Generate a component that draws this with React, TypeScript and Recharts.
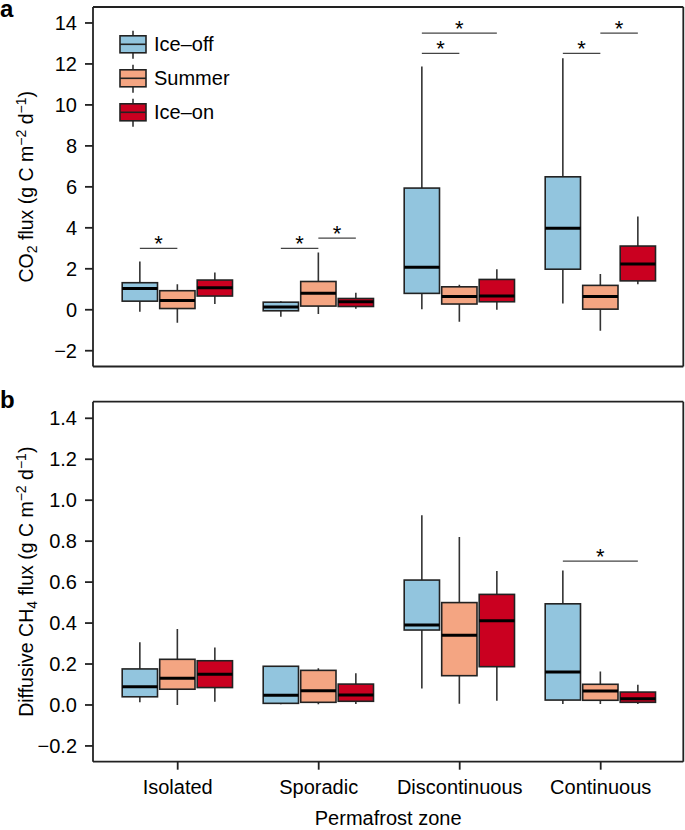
import React from "react";
import { ComposedChart, Bar, XAxis, YAxis, Legend } from "recharts";

const FONT = "'Liberation Sans', Arial, Helvetica, sans-serif";
const BAR_SIZE = 35.3;
const BAR_GAP = 2.2;

const zones = ["Isolated", "Sporadic", "Discontinuous", "Continuous"];
const seasons = ["Ice–off", "Summer", "Ice–on"];
const seasonColors = ["#92c5de", "#f4a582", "#ca0020"];

// each box: [lower whisker, Q1, median, Q3, upper whisker]
const co2IceOff = [
  [-0.1, 0.42, 1.04, 1.32, 2.36],
  [-0.34, -0.05, 0.13, 0.37, 0.42],
  [0.03, 0.8, 2.08, 5.94, 11.87],
  [0.31, 1.98, 3.98, 6.49, 12.28],
];
const co2Summer = [
  [-0.63, 0.06, 0.45, 0.93, 1.25],
  [-0.21, 0.18, 0.81, 1.38, 2.8],
  [-0.59, 0.28, 0.65, 1.12, 1.22],
  [-1.02, 0.03, 0.65, 1.19, 1.74],
];
const co2IceOn = [
  [0.28, 0.67, 1.07, 1.45, 1.82],
  [0.05, 0.16, 0.39, 0.55, 0.83],
  [0.0, 0.39, 0.67, 1.48, 1.98],
  [1.25, 1.41, 2.23, 3.11, 4.55],
];

const ch4IceOff = [
  [0.013, 0.04, 0.089, 0.176, 0.306],
  [0.003, 0.008, 0.047, 0.189, 0.189],
  [0.081, 0.366, 0.39, 0.61, 0.927],
  [0.005, 0.024, 0.161, 0.494, 0.657],
];
const ch4Summer = [
  [0.0, 0.077, 0.13, 0.223, 0.371],
  [0.003, 0.013, 0.07, 0.169, 0.179],
  [0.006, 0.143, 0.341, 0.5, 0.82],
  [0.005, 0.023, 0.068, 0.101, 0.163],
];
const ch4IceOn = [
  [0.016, 0.085, 0.15, 0.216, 0.281],
  [0.005, 0.018, 0.049, 0.102, 0.155],
  [0.021, 0.187, 0.411, 0.54, 0.654],
  [0.005, 0.013, 0.031, 0.063, 0.099],
];

// significance brackets: [zone, from season, to season, height]
const co2Signif = [
  [0, 0, 1, 3.0],
  [1, 0, 1, 3.0],
  [1, 1, 2, 3.5],
  [2, 0, 1, 12.52],
  [2, 0, 2, 13.5],
  [3, 0, 1, 12.52],
  [3, 1, 2, 13.5],
];
const ch4Signif = [[3, 0, 2, 0.702]];

const co2Ticks = [-2, 0, 2, 4, 6, 8, 10, 12, 14];
const ch4Ticks = [-0.2, 0, 0.2, 0.4, 0.6, 0.8, 1.0, 1.2, 1.4];

const co2Rows = zones.map((zone, i) => ({ zone, stats: [co2IceOff[i], co2Summer[i], co2IceOn[i]] }));
const ch4Rows = zones.map((zone, i) => ({ zone, stats: [ch4IceOff[i], ch4Summer[i], ch4IceOn[i]] }));

const axisLine = { stroke: "#222", strokeWidth: 1.8 };
const tickStyle = { fill: "#000", fontSize: 20, fontFamily: FONT };

function boxShape(s: number, signif: number[][]) {
  return (props: any) => {
    const { x, y, width, height, payload, index } = props;
    const st: number[] = payload.stats[s];
    const top = Math.min(y, y + height);
    const bot = Math.max(y, y + height);
    const lo = st[0];
    const hi = st[4];
    const py = (v: number) => top + ((hi - v) / (hi - lo)) * (bot - top);
    const cx = x + width / 2;
    const step = width + BAR_GAP;
    return (
      <g>
        <line x1={cx} x2={cx} y1={py(st[0])} y2={py(st[1])} stroke="#333" strokeWidth={1.6} />
        <line x1={cx} x2={cx} y1={py(st[3])} y2={py(st[4])} stroke="#333" strokeWidth={1.6} />
        <rect
          x={x}
          y={py(st[3])}
          width={width}
          height={py(st[1]) - py(st[3])}
          fill={seasonColors[s]}
          stroke="#222"
          strokeWidth={1.6}
        />
        <line x1={x} x2={x + width} y1={py(st[2])} y2={py(st[2])} stroke="#000" strokeWidth={3} />
        {signif
          .filter((b) => b[0] === index && b[1] === s)
          .map((b, k) => {
            const yy = py(b[3]);
            const x2 = cx + (b[2] - b[1]) * step;
            return (
              <g key={k}>
                <line x1={cx} x2={x2} y1={yy} y2={yy} stroke="#444" strokeWidth={1.3} />
                <text x={(cx + x2) / 2} y={yy + 3} textAnchor="middle" fontSize={22} fontFamily={FONT} fill="#000">
                  *
                </text>
              </g>
            );
          })}
      </g>
    );
  };
}

function unitTail() {
  return [
    <tspan key="a" dy={-7} fontSize={14}>−2</tspan>,
    <tspan key="b" dy={7}>{" d"}</tspan>,
    <tspan key="c" dy={-7} fontSize={14}>−1</tspan>,
    <tspan key="d" dy={7}>)</tspan>,
  ];
}

const co2Label = (props: any) => {
  const vb = props.viewBox;
  const cy = vb.y + vb.height / 2;
  return (
    <g>
      <text x={0} y={17} textAnchor="start" fontSize={24} fontWeight="bold" fontFamily={FONT} fill="#000">a</text>
      <text transform={`translate(33, ${cy}) rotate(-90)`} textAnchor="middle" fontSize={19.5} fontFamily={FONT} fill="#000">
        CO<tspan dy={4} fontSize={14}>2</tspan>
        <tspan dy={-4}>{" flux (g C m"}</tspan>
        {unitTail()}
      </text>
    </g>
  );
};

const ch4Label = (props: any) => {
  const vb = props.viewBox;
  const cy = vb.y + vb.height / 2;
  return (
    <g>
      <text x={0} y={28} textAnchor="start" fontSize={24} fontWeight="bold" fontFamily={FONT} fill="#000">b</text>
      <text transform={`translate(33, ${cy}) rotate(-90)`} textAnchor="middle" fontSize={19.5} fontFamily={FONT} fill="#000">
        Diffusive CH<tspan dy={4} fontSize={14}>4</tspan>
        <tspan dy={-4}>{" flux (g C m"}</tspan>
        {unitTail()}
      </text>
    </g>
  );
};

const zoneLabel = (props: any) => {
  const vb = props.viewBox;
  return (
    <text x={vb.x + vb.width / 2} y={vb.y + 63} textAnchor="middle" fontSize={20} fontFamily={FONT} fill="#000">
      Permafrost zone
    </text>
  );
};

const legendContent = () => (
  <svg width={260} height={130} style={{ display: "block" }}>
    {seasons.map((name, i) => {
      const cy = 44.3 + i * 34;
      return (
        <g key={name}>
          <line x1={133} x2={133} y1={cy - 13.5} y2={cy + 14.5} stroke="#333" strokeWidth={1.6} />
          <rect x={120} y={cy - 8.5} width={26} height={17} fill={seasonColors[i]} stroke="#222" strokeWidth={1.6} />
          <line x1={120} x2={146} y1={cy} y2={cy} stroke="#222" strokeWidth={1.6} />
          <text x={154} y={cy} dominantBaseline="central" fontSize={20} fontFamily={FONT} fill="#000">
            {name}
          </text>
        </g>
      );
    })}
  </svg>
);

const co2Fmt = (v: number) => String(v).replace("-", "−");
const ch4Fmt = (v: number) => v.toFixed(1).replace("-", "−");

export default function App() {
  return (
    <div style={{ position: "relative", width: 685, height: 830, background: "#fff", overflow: "hidden" }}>
      <style>{`html, body { margin: 0; padding: 0; overflow: hidden; }`}</style>
      <div style={{ position: "absolute", left: 0, top: 0 }}>
        <ComposedChart width={685} height={380} data={co2Rows} margin={{ top: 6, right: 0.7, bottom: 12.5, left: 0 }} barGap={BAR_GAP}>
          <XAxis dataKey="zone" height={1} tick={false} tickLine={false} axisLine={axisLine} padding={{ left: 14.2, right: 12.1 }} />
          <XAxis xAxisId="top" orientation="top" dataKey="zone" height={1} tick={false} tickLine={false} axisLine={axisLine} />
          <YAxis
            width={93}
            domain={[-2.77, 14.78]}
            allowDataOverflow
            ticks={co2Ticks}
            tickFormatter={co2Fmt}
            tick={tickStyle}
            tickSize={8}
            tickMargin={8}
            tickLine={axisLine}
            axisLine={axisLine}
            label={co2Label}
          />
          <YAxis yAxisId="right" orientation="right" width={1} domain={[0, 1]} tick={false} tickLine={false} axisLine={axisLine} />
          <Legend
            layout="horizontal"
            verticalAlign="middle"
            align="center"
            wrapperStyle={{ position: "absolute", left: 0, top: 0, width: 260, height: 130 }}
            content={legendContent}
          />
          {seasons.map((name, s) => (
            <Bar
              key={name}
              name={name}
              dataKey={(r: any) => [r.stats[s][0], r.stats[s][4]]}
              fill={seasonColors[s]}
              barSize={BAR_SIZE}
              isAnimationActive={false}
              shape={boxShape(s, co2Signif)}
            />
          ))}
        </ComposedChart>
      </div>
      <div style={{ position: "absolute", left: 0, top: 380 }}>
        <ComposedChart width={685} height={450} data={ch4Rows} margin={{ top: 20.7, right: 0.7, bottom: 0, left: 0 }} barGap={BAR_GAP}>
          <XAxis
            dataKey="zone"
            height={68.3}
            tick={tickStyle}
            tickSize={8}
            tickMargin={10}
            tickLine={axisLine}
            axisLine={axisLine}
            interval={0}
            padding={{ left: 14.2, right: 12.1 }}
            label={zoneLabel}
          />
          <XAxis xAxisId="top" orientation="top" dataKey="zone" height={1} tick={false} tickLine={false} axisLine={axisLine} />
          <YAxis
            width={93}
            domain={[-0.277, 1.481]}
            allowDataOverflow
            ticks={ch4Ticks}
            tickFormatter={ch4Fmt}
            tick={tickStyle}
            tickSize={8}
            tickMargin={8}
            tickLine={axisLine}
            axisLine={axisLine}
            label={ch4Label}
          />
          <YAxis yAxisId="right" orientation="right" width={1} domain={[0, 1]} tick={false} tickLine={false} axisLine={axisLine} />
          {seasons.map((name, s) => (
            <Bar
              key={name}
              name={name}
              dataKey={(r: any) => [r.stats[s][0], r.stats[s][4]]}
              fill={seasonColors[s]}
              barSize={BAR_SIZE}
              isAnimationActive={false}
              shape={boxShape(s, ch4Signif)}
            />
          ))}
        </ComposedChart>
      </div>
    </div>
  );
}
